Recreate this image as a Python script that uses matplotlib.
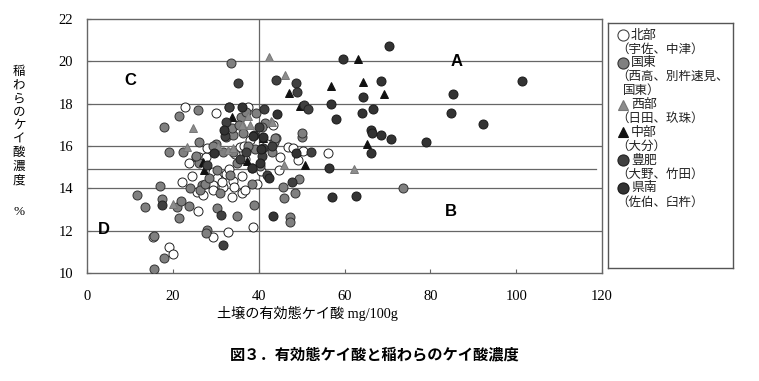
import matplotlib
matplotlib.use("Agg")
import matplotlib.pyplot as plt

plt.rcParams['font.family'] = ['Liberation Serif', 'Noto Sans CJK JP']

# ---------------- data ----------------
hokubu_x = [22.8, 30.0, 37.6, 43.4, 29.8, 35.6, 36.8, 45.0, 46.8, 50.4, 49.2, 56.2, 26.0, 23.8,
            29.4, 44.8, 32.5, 30.2, 22.1, 25.7, 29.4, 29.4, 31.8, 34.1, 34.2, 33.9, 36.0, 36.8,
            39.7, 25.9, 38.6, 32.9, 29.3, 15.4, 19.0, 20.0, 34.5, 36.6, 27.7, 31.5, 33.0, 27.0,
            36.2, 40.5, 48.0, 24.5, 38.0, 42.0, 28.0]
hokubu_y = [17.83, 17.57, 17.83, 16.99, 16.0, 15.97, 15.4, 15.5, 15.94, 15.78, 15.34, 15.69, 15.5, 15.18,
            14.77, 14.87, 14.68, 14.47, 14.32, 13.85, 14.16, 13.93, 14.05, 14.36, 14.05, 13.6, 13.8, 13.9,
            14.19, 12.94, 12.19, 11.93, 11.69, 11.7, 11.25, 10.9, 15.6, 16.0, 15.5, 14.3, 14.9, 13.7,
            14.6, 14.8, 15.9, 14.6, 16.3, 16.1, 15.9]

kunisaki_x = [33.5, 21.4, 25.9, 17.9, 35.8, 39.3, 41.5, 32.4, 34.1, 36.4, 44.0, 43.6, 50.0, 50.2,
              26.2, 19.2, 22.4, 30.1, 31.8, 34.1, 39.1, 43.2, 25.4, 26.1, 30.3, 40.3, 33.4, 26.7,
              26.4, 27.5, 31.0, 45.6, 49.5, 48.5, 45.9, 17.0, 11.7, 17.4, 13.4, 20.9, 21.9, 23.8,
              21.4, 30.2, 34.9, 38.8, 47.3, 47.2, 27.9, 15.6, 18.0, 15.6, 73.7, 33.9, 35.4, 29.3,
              25.5, 38.4, 43.8, 33.2, 28.5, 24.0, 35.0, 37.5, 38.5, 40.8, 37.0, 27.8]
kunisaki_y = [19.94, 17.4, 17.7, 16.9, 17.39, 17.54, 17.1, 16.44, 16.53, 16.63, 16.4, 16.2, 16.44, 16.6,
              16.2, 15.73, 15.73, 16.1, 15.73, 15.73, 15.86, 15.73, 15.5, 15.2, 14.87, 15.07, 14.63, 14.16,
              13.9, 14.2, 13.77, 14.05, 14.43, 13.77, 13.53, 14.1, 13.69, 13.48, 13.1, 13.13, 13.4, 13.18,
              12.58, 13.06, 12.7, 13.21, 12.66, 12.4, 12.04, 11.75, 10.73, 10.18, 14.03, 16.86, 17.0, 15.99,
              15.54, 14.97, 16.4, 17.86, 14.5, 14.0, 15.2, 16.0, 14.2, 16.9, 17.6, 11.9]

seibu_x = [42.5, 46.1, 24.6, 37.4, 36.4, 37.9, 42.8, 23.4, 32.8, 45.9, 20.0, 62.3, 36.2, 43.0, 30.5, 34.0]
seibu_y = [20.2, 19.35, 16.84, 17.42, 16.97, 16.97, 17.2, 15.97, 15.8, 15.1, 13.26, 14.91, 17.0, 17.15, 16.0, 15.9]

chubu_x = [47.1, 56.8, 49.6, 33.9, 41.1, 37.2, 27.1, 50.8, 63.1, 64.2, 69.3, 65.2, 27.3]
chubu_y = [18.5, 18.84, 17.9, 17.36, 16.4, 15.3, 15.23, 15.1, 20.11, 19.04, 18.46, 16.1, 14.87]

hohi_x = [35.1, 44.0, 48.8, 49.0, 50.6, 51.6, 33.1, 41.3, 32.3, 40.0, 38.8, 43.1, 37.0, 40.7,
          52.2, 27.9, 42.0, 47.8, 17.4, 31.2, 31.6, 40.9, 35.6, 32.2]
hohi_y = [19.0, 19.1, 18.96, 18.54, 17.92, 17.75, 17.86, 17.75, 17.13, 16.9, 16.53, 16.0, 15.7, 15.53,
          15.7, 15.1, 14.63, 14.3, 13.2, 12.74, 11.3, 15.9, 15.39, 16.49]

kennan_x = [56.9, 58.0, 36.2, 44.2, 31.9, 41.1, 29.6, 40.5, 48.7, 38.5, 56.5, 42.3, 57.2, 43.3,
            70.4, 59.7, 68.4, 64.4, 101.3, 85.3, 84.9, 92.3, 64.1, 66.6, 66.1, 66.3, 68.4, 70.9,
            79.1, 66.1, 62.7, 40.4, 38.6]
kennan_y = [17.98, 17.26, 17.83, 17.5, 16.76, 16.44, 15.66, 15.86, 15.69, 14.95, 14.95, 14.47, 13.6, 12.7,
            20.72, 20.11, 19.09, 18.33, 19.09, 18.44, 17.54, 17.04, 17.54, 17.73, 16.76, 16.63, 16.5, 16.33,
            16.18, 15.66, 13.65, 15.18, 16.49]

hlines_y = [20, 18, 16, 14, 12]
mid_line_y = 14.9
vline_x = 40

x_ticks = [0, 20, 40, 60, 80, 100, 120]
y_ticks = [10, 12, 14, 16, 18, 20, 22]

region_labels = ['A', 'B', 'C', 'D']
region_x = [86.2, 84.8, 10.0, 4.0]
region_y = [20.0, 12.9, 19.1, 12.05]

legend_names = ['北部', '国東', '西部', '中部', '豊肥', '県南']
legend_sub = [['（宇佐、中津）'], ['（西高、別杵速見、', '国東）'], ['（日田、玖珠）'],
              ['（大分）'], ['（大野、竹田）'], ['（佐伯、臼杵）']]

# ---------------- styles ----------------
styles = [
    dict(marker='o', mfc='white', mec='#222222', ms=6.5),
    dict(marker='o', mfc='#808080', mec='#333333', ms=6.5),
    dict(marker='^', mfc='#8c8c8c', mec='#777777', ms=6.0),
    dict(marker='^', mfc='#111111', mec='#111111', ms=5.5),
    dict(marker='o', mfc='#404040', mec='#222222', ms=6.5),
    dict(marker='o', mfc='#333333', mec='#1a1a1a', ms=6.5),
]
series = [(hokubu_x, hokubu_y), (kunisaki_x, kunisaki_y), (seibu_x, seibu_y),
          (chubu_x, chubu_y), (hohi_x, hohi_y), (kennan_x, kennan_y)]

W, H = 759, 381
fig = plt.figure(figsize=(W / 100, H / 100), dpi=100)
ax = fig.add_axes([87 / W, 1 - 273 / H, (602 - 87) / W, (273 - 19) / H])

ax.set_xlim(0, 120)
ax.set_ylim(10, 22)
grid_c = '#666666'
for yv in hlines_y:
    ax.axhline(yv, color=grid_c, lw=0.9, zorder=1)
ax.plot([0, 118.6], [mid_line_y, mid_line_y], color=grid_c, lw=0.9, zorder=1)
ax.axvline(vline_x, color=grid_c, lw=0.9, zorder=1)

for (xs, ys), st in zip(series, styles):
    ax.plot(xs, ys, linestyle='none', marker=st['marker'], markerfacecolor=st['mfc'],
            markeredgecolor=st['mec'], markersize=st['ms'], markeredgewidth=0.7, zorder=3)

for lab, xv, yv in zip(region_labels, region_x, region_y):
    ax.text(xv, yv, lab, ha='center', va='center', fontsize=12, fontweight='bold',
            family=['Liberation Sans'], zorder=4)

for s in ax.spines.values():
    s.set_color('#666666')
    s.set_linewidth(1.0)
ax.set_xticks(x_ticks)
ax.set_yticks(y_ticks)
ax.tick_params(axis='both', direction='in', length=3, color='#666666', labelsize=10.5)
ax.tick_params(axis='x', pad=12)
ax.tick_params(axis='y', pad=10)

# x label
fig.text(307 / W, 1 - 313 / H, '土壌の有効態ケイ酸 mg/100g', ha='center', va='center',
         fontsize=10.2, family=['Liberation Serif', 'Noto Sans CJK JP'])

# vertical y label
ylab_chars = list('稲わらのケイ酸濃度')
for i, ch in enumerate(ylab_chars):
    fig.text(19 / W, 1 - (71.7 + i * 13.5) / H, ch, ha='center', va='center',
             fontsize=9, family=['Noto Sans CJK JP'])
fig.text(19 / W, 1 - 211.7 / H, '%', ha='center', va='center', fontsize=9.5,
         family=['Liberation Serif'])

# title
fig.text(375 / W, 1 - 354 / H, '図３．有効態ケイ酸と稲わらのケイ酸濃度', ha='center', va='center',
         fontsize=11, fontweight='bold', family=['Noto Sans CJK JP'])

# legend panel
lx0, lx1, ly0, ly1 = 608, 733, 23, 268
lax = fig.add_axes([lx0 / W, 1 - ly1 / H, (lx1 - lx0) / W, (ly1 - ly0) / H])
lax.set_xlim(lx0, lx1)
lax.set_ylim(ly1, ly0)
lax.set_xticks([])
lax.set_yticks([])
for s in lax.spines.values():
    s.set_color('#555555')
    s.set_linewidth(1.0)
row = 35.0
step = 13.9
for name, subs, st in zip(legend_names, legend_sub, styles):
    lax.plot([623], [row], linestyle='none', marker=st['marker'], markerfacecolor=st['mfc'],
             markeredgecolor=st['mec'] if st['mfc'] != 'white' else '#444444',
             markersize=st['ms'] + 1.5, markeredgewidth=0.8, clip_on=False)
    lax.text(631, row, name, ha='left', va='center', fontsize=9.3, family=['Noto Sans CJK JP'],
             color='#222222')
    row += step
    for j, sub in enumerate(subs):
        lax.text(616 if j == 0 else 623, row, sub, ha='left', va='center', fontsize=9,
                 family=['Noto Sans CJK JP'], color='#222222')
        row += step

fig.savefig('out.png', dpi=100)
